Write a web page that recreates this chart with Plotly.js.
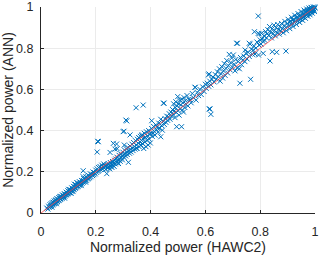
<!DOCTYPE html>
<html>
<head>
<meta charset="utf-8">
<script src="https://cdn.plot.ly/plotly-3.0.1.min.js"></script>
<style>html,body{margin:0;padding:0;background:#fff;}#chart{width:320px;height:255px;}</style>
</head>
<body>
<div id="chart"></div>
<script>
// Normalized power pairs [HAWC2, ANN], grouped by range
const pairsLow = [
[0.021,0.024],[0.025,0.019],[0.028,0.033],[0.030,0.027],[0.033,0.040],[0.035,0.031],[0.037,0.045],[0.039,0.036],[0.041,0.050],[0.043,0.039],
[0.045,0.052],[0.046,0.043],[0.048,0.058],[0.050,0.046],[0.052,0.061],[0.053,0.049],[0.055,0.064],[0.057,0.052],[0.058,0.070],[0.060,0.056],
[0.062,0.066],[0.063,0.060],[0.065,0.075],[0.067,0.062],[0.068,0.072],[0.070,0.067],[0.072,0.081],[0.073,0.069],[0.075,0.078],[0.077,0.072],
[0.078,0.088],[0.080,0.076],[0.082,0.084],[0.083,0.079],[0.085,0.094],[0.087,0.082],[0.088,0.090],[0.090,0.087],[0.092,0.101],[0.093,0.089],
[0.095,0.097],[0.097,0.092],[0.098,0.108],[0.100,0.096],[0.102,0.104],[0.104,0.099],[0.105,0.114],[0.107,0.101],[0.109,0.111],[0.111,0.106],
[0.112,0.122],[0.114,0.109],[0.116,0.118],[0.118,0.113],[0.119,0.129],[0.121,0.116],[0.123,0.126],[0.125,0.120],[0.126,0.138],[0.128,0.123],
[0.130,0.133],[0.132,0.127],[0.133,0.145],[0.135,0.130],[0.137,0.140],[0.139,0.134],[0.140,0.152],[0.142,0.137],[0.144,0.148],[0.146,0.141],
[0.148,0.158],[0.150,0.144],[0.152,0.155],[0.154,0.149],[0.156,0.167],[0.158,0.152],[0.160,0.163],[0.162,0.157],[0.164,0.176],[0.166,0.159],
[0.168,0.171],[0.170,0.165],[0.172,0.183],[0.174,0.168],[0.176,0.180],[0.178,0.172],[0.180,0.190],[0.183,0.176],[0.185,0.188],[0.188,0.182],
[0.190,0.199],[0.193,0.186],[0.195,0.196],[0.198,0.190],
[0.040,0.028],[0.056,0.045],[0.069,0.080],[0.086,0.072],[0.101,0.115],[0.117,0.104],[0.131,0.148],[0.147,0.133],[0.163,0.150],[0.154,0.176],
[0.122,0.140],[0.110,0.095],[0.154,0.205]
];
const pairsMidLow = [
[0.200,0.208],[0.203,0.197],[0.205,0.214],[0.208,0.202],[0.210,0.221],[0.212,0.206],[0.215,0.226],[0.217,0.211],[0.219,0.218],[0.222,0.232],
[0.224,0.215],[0.226,0.224],[0.229,0.238],[0.231,0.219],[0.233,0.229],[0.236,0.212],[0.238,0.226],[0.240,0.191],[0.241,0.234],[0.243,0.218],
[0.245,0.240],[0.247,0.223],[0.249,0.231],[0.251,0.214],[0.253,0.245],[0.255,0.227],[0.257,0.236],[0.259,0.221],[0.261,0.250],[0.263,0.232],
[0.265,0.241],[0.267,0.226],[0.269,0.256],[0.271,0.238],[0.273,0.262],[0.275,0.244],[0.277,0.271],[0.279,0.249],[0.281,0.258],[0.283,0.240],
[0.285,0.280],[0.287,0.262],[0.289,0.251],[0.291,0.287],[0.293,0.268],[0.295,0.276],[0.297,0.258],[0.299,0.295],[0.301,0.282],[0.303,0.270],
[0.305,0.305],[0.307,0.288],[0.309,0.277],[0.311,0.312],[0.313,0.296],[0.315,0.284],[0.317,0.318],[0.319,0.246],[0.321,0.302],[0.323,0.290],
[0.325,0.325],[0.327,0.309],[0.329,0.296],[0.332,0.334],[0.334,0.315],[0.336,0.303],[0.338,0.342],[0.341,0.322],[0.343,0.310],[0.345,0.351],
[0.348,0.330],[0.350,0.314],[0.352,0.358],[0.355,0.338],[0.357,0.365],[0.359,0.321],[0.361,0.345],[0.363,0.372],[0.365,0.330],[0.367,0.352],
[0.369,0.380],[0.371,0.336],[0.373,0.360],[0.375,0.313],[0.377,0.387],[0.379,0.344],[0.381,0.367],[0.383,0.322],[0.385,0.394],[0.387,0.352],
[0.389,0.375],[0.391,0.330],[0.393,0.400],[0.395,0.359],[0.397,0.382],[0.399,0.340],
[0.207,0.348],[0.205,0.296],[0.209,0.346],[0.252,0.294],[0.264,0.338],[0.276,0.335],[0.270,0.310],[0.278,0.312],[0.300,0.395],[0.303,0.397],
[0.313,0.447],[0.310,0.451],[0.325,0.379],[0.304,0.330],[0.349,0.314],[0.358,0.365],[0.368,0.375],[0.347,0.511],[0.373,0.524],[0.404,0.448]
];
const pairsMid = [
[0.401,0.386],[0.404,0.410],[0.406,0.372],[0.409,0.387],[0.411,0.420],[0.414,0.395],[0.416,0.378],[0.419,0.428],[0.421,0.404],[0.424,0.417],
[0.427,0.392],[0.430,0.436],[0.433,0.411],[0.437,0.370],[0.437,0.455],[0.440,0.425],[0.443,0.402],[0.447,0.533],[0.449,0.533],[0.446,0.445],
[0.450,0.430],[0.453,0.458],[0.456,0.440],[0.459,0.470],[0.462,0.450],[0.465,0.467],[0.468,0.482],[0.471,0.455],[0.474,0.490],[0.477,0.470],
[0.480,0.502],[0.482,0.478],[0.484,0.530],[0.486,0.495],[0.489,0.463],[0.490,0.512],[0.492,0.540],[0.494,0.488],[0.495,0.419],[0.497,0.520],
[0.499,0.565],[0.500,0.497],[0.502,0.530],[0.504,0.475],[0.506,0.548],[0.508,0.505],[0.510,0.525],[0.513,0.419],[0.514,0.552],[0.516,0.500],
[0.518,0.535],[0.520,0.490],[0.522,0.560],[0.525,0.512],[0.527,0.545],[0.530,0.528],[0.533,0.570],[0.536,0.520],[0.540,0.552],[0.544,0.549],
[0.548,0.535],[0.552,0.580],[0.556,0.560],[0.562,0.610],[0.563,0.610],[0.566,0.548],[0.570,0.585],[0.575,0.570],[0.580,0.600],[0.585,0.575],
[0.590,0.612],[0.595,0.590],[0.600,0.625],[0.620,0.479],[0.614,0.505],[0.617,0.505]
];
const pairsMidHigh = [
[0.603,0.605],[0.607,0.630],[0.611,0.670],[0.613,0.675],[0.612,0.615],[0.616,0.640],[0.620,0.622],[0.624,0.648],[0.628,0.660],[0.632,0.636],
[0.636,0.672],[0.640,0.650],[0.644,0.685],[0.647,0.662],[0.651,0.700],[0.654,0.640],[0.657,0.676],[0.660,0.710],[0.663,0.655],[0.666,0.690],
[0.669,0.725],[0.672,0.668],[0.675,0.702],[0.678,0.740],[0.681,0.680],[0.684,0.715],[0.687,0.770],[0.690,0.695],[0.693,0.730],[0.696,0.752],
[0.699,0.708],[0.702,0.767],[0.705,0.722],[0.708,0.690],[0.711,0.745],[0.714,0.824],[0.716,0.705],[0.717,0.824],[0.720,0.735],[0.724,0.700],
[0.726,0.630],[0.728,0.755],[0.732,0.720],[0.736,0.742],[0.740,0.762],[0.745,0.791],[0.744,0.735],[0.748,0.775],[0.752,0.748],[0.756,0.780],
[0.760,0.824],[0.760,0.760],[0.763,0.820],[0.765,0.649],[0.768,0.795],[0.772,0.770],[0.775,0.791],[0.779,0.880],[0.778,0.810],[0.781,0.772],
[0.784,0.800],[0.788,0.830],[0.793,0.956],[0.793,0.872],[0.794,0.767],[0.797,0.869],[0.796,0.815],[0.800,0.840]
];
const pairsHigh = [
[0.803,0.820],[0.805,0.872],[0.807,0.845],[0.811,0.775],[0.811,0.832],[0.814,0.860],[0.817,0.838],[0.820,0.880],[0.823,0.850],[0.825,0.870],
[0.828,0.890],[0.831,0.862],[0.834,0.905],[0.836,0.738],[0.838,0.878],[0.841,0.850],[0.844,0.783],[0.844,0.895],[0.847,0.870],[0.850,0.912],
[0.852,0.885],[0.855,0.860],[0.858,0.900],[0.860,0.780],[0.861,0.875],[0.864,0.915],[0.867,0.890],[0.870,0.868],[0.872,0.905],[0.875,0.885],
[0.878,0.920],[0.881,0.895],[0.884,0.875],[0.887,0.910],[0.890,0.930],[0.893,0.900],[0.894,0.786],[0.896,0.885],[0.899,0.920],[0.902,0.940],
[0.905,0.910],[0.908,0.895],[0.911,0.930],[0.914,0.950],[0.917,0.920],[0.920,0.905],[0.923,0.940],[0.926,0.960],[0.929,0.930],[0.932,0.915],
[0.935,0.950],[0.938,0.968],[0.941,0.940],[0.944,0.925],[0.946,0.960],[0.949,0.978],[0.952,0.950],[0.955,0.935],[0.957,0.970],[0.960,0.985],
[0.962,0.958],[0.965,0.945],[0.967,0.975],[0.970,0.990],[0.972,0.965],[0.974,0.955],[0.976,0.982],[0.978,0.995],[0.980,0.970],[0.982,0.962],
[0.984,0.988],[0.986,0.998],[0.988,0.978],[0.990,0.970],[0.992,0.992],[0.994,1.000],[0.996,0.985],[0.998,0.978],[1.000,0.995],[0.999,1.000],
[0.995,0.992],[0.991,0.983],[0.987,0.995],[0.983,0.975],[0.979,0.988],[0.975,0.968],[0.971,0.980],[0.968,0.960],[0.964,0.972],[0.959,0.950],
[0.954,0.962],[0.948,0.940],[0.943,0.955],[0.937,0.932],[0.931,0.948],[0.925,0.925],[0.919,0.938],[0.913,0.915],[0.906,0.928]
];
const refLine = [0, 1];
const tickVals = [0, 0.2, 0.4, 0.6, 0.8, 1];
const tickText = ['0', '0.2', '0.4', '0.6', '0.8', '1'];

const all = pairsLow.concat(pairsMidLow, pairsMid, pairsMidHigh, pairsHigh);
const hawc2 = all.map(p => p[0]);
const ann = all.map(p => p[1]);

const font = 'Liberation Sans, Arial, Helvetica, sans-serif';
const tickFont = {family: font, size: 12.5, color: '#262626'};
const titleFont = {family: font, size: 14, color: '#262626'};

// Main axes: lines, inward ticks, grid (no labels)
const mainAxis = {
  range: [0, 1], tickvals: tickVals, ticktext: tickText,
  ticks: 'inside', ticklen: 3, tickcolor: '#262626', tickwidth: 1,
  showline: true, linecolor: '#262626', linewidth: 1,
  showgrid: true, gridcolor: '#ebebeb', gridwidth: 1, zeroline: false,
  showticklabels: false, fixedrange: true
};
// Overlay axes: tick labels and titles only
const labelAxis = {
  range: [0, 1], tickvals: tickVals, ticktext: tickText,
  ticks: 'outside', tickcolor: 'rgba(0,0,0,0)', tickwidth: 1,
  showline: false, showgrid: false, zeroline: false,
  tickfont: tickFont, fixedrange: true
};

const traces = [
  {x: hawc2, y: ann, type: 'scatter', mode: 'markers',
   marker: {symbol: 'x-thin', size: 5, color: '#0072BD', line: {color: '#0072BD', width: 1}},
   hoverinfo: 'skip', cliponaxis: false},
  {x: refLine, y: refLine, type: 'scatter', mode: 'lines', xaxis: 'x2', yaxis: 'y2',
   line: {color: 'rgba(255,60,60,0.75)', width: 1}, hoverinfo: 'skip'}
];

const layout = {
  width: 320, height: 255,
  margin: {l: 41, r: 5, t: 7, b: 42},
  paper_bgcolor: '#ffffff', plot_bgcolor: '#ffffff',
  showlegend: false,
  xaxis: mainAxis,
  yaxis: Object.assign({}, mainAxis),
  xaxis2: Object.assign({}, labelAxis, {
    overlaying: 'x', anchor: 'y2', side: 'bottom', ticklen: 7,
    title: {text: 'Normalized power (HAWC2)', font: titleFont, standoff: 6}
  }),
  yaxis2: Object.assign({}, labelAxis, {
    overlaying: 'y', anchor: 'x2', side: 'left', ticklen: 4,
    title: {text: 'Normalized power (ANN)', font: titleFont, standoff: 4}
  })
};

Plotly.newPlot('chart', traces, layout, {staticPlot: true, displayModeBar: false});
</script>
</body>
</html>
